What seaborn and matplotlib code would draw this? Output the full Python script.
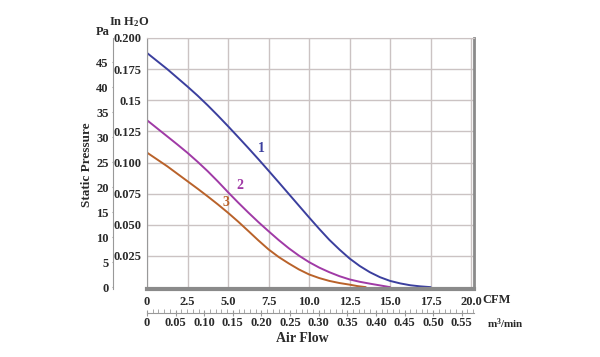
import matplotlib
matplotlib.use("Agg")
import matplotlib.pyplot as plt
import numpy as np
import pandas as pd
import seaborn as sns
from matplotlib.ticker import MultipleLocator

# values (CFM vs in H2O)
flow_1 = [0, 0.625, 1.25, 1.875, 2.5, 3.125, 3.75, 4.375, 5, 5.625, 6.25, 6.875, 7.5,
          8.125, 8.75, 9.375, 10, 10.625, 11.25, 11.875, 12.5, 13.125, 13.75, 14.375,
          15, 15.625, 16.25, 16.875, 17.5]
pres_1 = [0.188, 0.1815, 0.175, 0.168, 0.161, 0.1537, 0.1459, 0.1377, 0.1292, 0.1205,
          0.1117, 0.1027, 0.0935, 0.0842, 0.0748, 0.0654, 0.056, 0.0468, 0.038, 0.0302,
          0.023, 0.017, 0.012, 0.008, 0.005, 0.003, 0.0015, 0.0006, 0.0]
flow_2 = [0, 0.625, 1.25, 1.875, 2.5, 3.125, 3.75, 4.375, 5, 5.625, 6.25, 6.875, 7.5,
          8.125, 8.75, 9.375, 10, 10.625, 11.25, 11.875, 12.5, 13.125, 13.75, 14.375, 15]
pres_2 = [0.134, 0.1275, 0.121, 0.1145, 0.1078, 0.1006, 0.093, 0.0848, 0.0762, 0.0679,
          0.0599, 0.0522, 0.0449, 0.0378, 0.0312, 0.0253, 0.0201, 0.0157, 0.012, 0.0088,
          0.0062, 0.0043, 0.0028, 0.0014, 0.0]
flow_3 = [0, 0.625, 1.25, 1.875, 2.5, 3.125, 3.75, 4.375, 5, 5.625, 6.25, 6.875, 7.5,
          8.125, 8.75, 9.375, 10, 10.625, 11.25, 11.875, 12.5, 13.0, 13.5]
pres_3 = [0.108, 0.1025, 0.097, 0.091, 0.085, 0.079, 0.0728, 0.0664, 0.0597, 0.0526,
          0.0451, 0.0375, 0.0303, 0.0242, 0.019, 0.0142, 0.0102, 0.0073, 0.005, 0.0033,
          0.002, 0.0008, 0.0]

curve_names = ["1", "2", "3"]
curve_colors = ["#3b3f9e", "#a03aa6", "#b9622a"]
label_pos = [(7.08, 0.1116), (5.72, 0.0813), (4.86, 0.0677)]

cfm_ticks = [0, 2.5, 5.0, 7.5, 10.0, 12.5, 15.0, 17.5, 20.0]
cfm_labels = ["0", "2.5", "5.0", "7.5", "10.0", "12.5", "15.0", "17.5", "20.0"]
inh2o_ticks = [0.025, 0.05, 0.075, 0.1, 0.125, 0.15, 0.175, 0.2]
inh2o_labels = ["0.025", "0.050", "0.075", "0.100", "0.125", "0.15", "0.175", "0.200"]
pa_ticks = [0, 5, 10, 15, 20, 25, 30, 35, 40, 45]
m3_ticks = [0, 0.05, 0.10, 0.15, 0.20, 0.25, 0.30, 0.35, 0.40, 0.45, 0.50, 0.55]
m3_labels = ["0", "0.05", "0.10", "0.15", "0.20", "0.25", "0.30", "0.35", "0.40", "0.45", "0.50", "0.55"]

PA_PER_INH2O = 249.09
M3MIN_PER_CFM = 0.0283168

sns.set_style("white")
plt.rcParams['font.family'] = ['Liberation Serif', 'DejaVu Serif']
plt.rcParams['font.weight'] = 'bold'
plt.rcParams['mathtext.default'] = 'regular'

txt = "#2a2a2a"
grid_c = "#cbc3c3"

fig = plt.figure(figsize=(6, 3.57), dpi=100)
ax = fig.add_axes([147 / 600, 68 / 357, 327 / 600, 251 / 357])

df = pd.concat([
    pd.DataFrame({"flow": f, "pres": p, "curve": n})
    for f, p, n in zip([flow_1, flow_2, flow_3], [pres_1, pres_2, pres_3], curve_names)
])
sns.lineplot(data=df, x="flow", y="pres", hue="curve", palette=curve_colors,
             linewidth=1.4, legend=False, ax=ax, sort=False)

for n, (lx, ly), c in zip(curve_names, label_pos, curve_colors):
    ax.text(lx, ly, n, color=c, fontsize=10, fontweight="bold",
            ha="center", va="center")

ax.set_xlim(0, 20.18)
ax.set_ylim(-0.0015, 0.2)
ax.set_xticks(cfm_ticks)
ax.set_xticklabels(cfm_labels)
ax.set_yticks(inh2o_ticks)
ax.set_yticklabels(inh2o_labels)
ax.xaxis.set_minor_locator(MultipleLocator(0.5))
ax.yaxis.set_minor_locator(MultipleLocator(0.005))
ax.grid(True, which="major", color=grid_c, linewidth=1.0)
ax.set_axisbelow(True)
ax.set_xlabel("")
ax.set_ylabel("")
ax.tick_params(axis="both", which="major", labelsize=9, labelcolor=txt, length=0)
ax.tick_params(axis="x", which="major", pad=5)
ax.tick_params(axis="y", which="major", pad=4)
ax.tick_params(axis="x", which="minor", direction="in", length=3, color="#888888")
ax.tick_params(axis="y", which="minor", direction="in", length=2, color="#aaaaaa")

ax.spines["bottom"].set_color("#8a8a8a")
ax.spines["bottom"].set_linewidth(3)
ax.spines["left"].set_color("#999999")
ax.spines["left"].set_linewidth(0.8)
ax.spines["top"].set_color(grid_c)
ax.spines["right"].set_color("#8a8a8a")
ax.spines["right"].set_linewidth(2)

# Pa axis on the left
pa = ax.secondary_yaxis(-34 / 327, functions=(lambda v: v * PA_PER_INH2O,
                                              lambda p: p / PA_PER_INH2O))
pa.set_yticks(pa_ticks)
pa.tick_params(labelsize=9, labelcolor=txt, length=1, color="#999999", pad=2)
pa.spines["left"].set_color("#999999")
pa.spines["left"].set_linewidth(0.8)

# m3/min axis below
m3 = ax.secondary_xaxis(-24 / 251, functions=(lambda v: v * M3MIN_PER_CFM,
                                              lambda m: m / M3MIN_PER_CFM))
m3.set_xticks(m3_ticks)
m3.set_xticklabels(m3_labels)
m3.xaxis.set_minor_locator(MultipleLocator(0.01))
m3.tick_params(which="major", labelsize=9, labelcolor=txt, length=4,
               direction="inout", color="#999999", pad=1)
m3.tick_params(which="minor", length=3, direction="in", color="#999999")
m3.spines["bottom"].set_color("#999999")
m3.spines["bottom"].set_linewidth(0.8)

fig.text(103 / 600, 1 - 32 / 357, "Pa", fontsize=9, fontweight="bold",
         color=txt, ha="center", va="center")
fig.text(129 / 600, 1 - 22 / 357, "In H$_2$O", fontsize=9, fontweight="bold",
         color=txt, ha="center", va="center")
fig.text(87 / 600, 1 - 165 / 357, "Static Pressure", fontsize=9.5, fontweight="bold",
         color=txt, ha="center", va="center", rotation=90)
fig.text(482 / 600, 1 - 300 / 357, "CFM", fontsize=9, fontweight="bold",
         color=txt, ha="left", va="center")
fig.text(487 / 600, 1 - 324 / 357, "m$^3$/min", fontsize=8, fontweight="bold",
         color=txt, ha="left", va="center")
fig.text(302 / 600, 1 - 339 / 357, "Air Flow", fontsize=10, fontweight="bold",
         color=txt, ha="center", va="center")

fig.savefig("out.png", dpi=100)
